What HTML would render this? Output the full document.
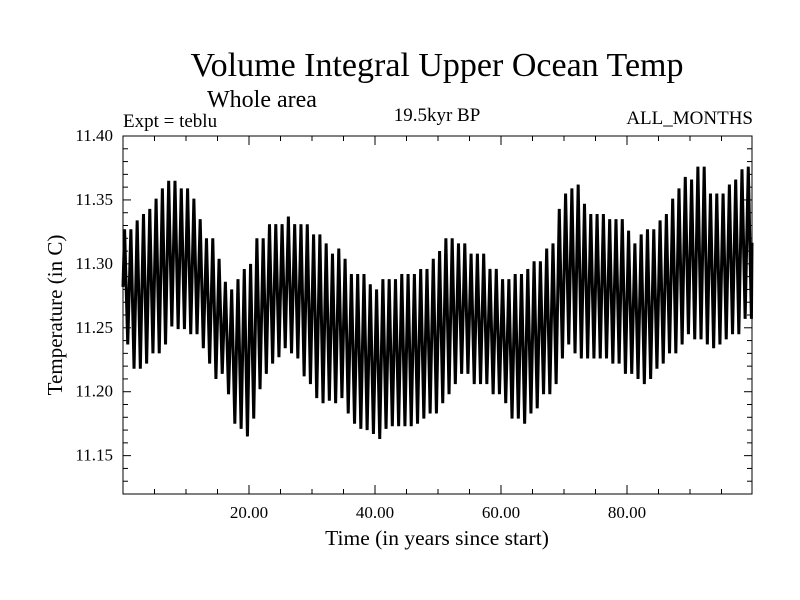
<!DOCTYPE html>
<html><head><meta charset="utf-8"><style>
html,body{margin:0;padding:0;background:#fff;}
svg{display:block;font-family:"Liberation Serif",serif;}
</style></head><body>
<svg id="chart" width="800" height="600" viewBox="0 0 800 600">
<text x="437" y="76" font-size="34" text-anchor="middle">Volume Integral Upper Ocean Temp</text>
<text x="207" y="107" font-size="24">Whole area</text>
<text x="123" y="127" font-size="19">Expt = teblu</text>
<text x="437" y="121" font-size="19" text-anchor="middle">19.5kyr BP</text>
<text x="753" y="124" font-size="19" text-anchor="end">ALL_MONTHS</text>
<text x="437" y="545" font-size="21.5" text-anchor="middle">Time (in years since start)</text>
<text transform="translate(62,315) rotate(-90)" font-size="21" text-anchor="middle">Temperature (in C)</text>
<g id="ticks"></g>
<path id="series" fill="none" stroke="#000" stroke-width="3" stroke-linejoin="miter"></path>
<rect x="123" y="136" width="629" height="358" fill="none" stroke="#000" stroke-width="1"></rect>
</svg>
<script>
const yearMax = [11.327,11.327,11.334,11.339,11.343,11.351,11.359,11.365,11.365,11.359,11.359,11.351,11.335,11.320,11.320,11.304,11.286,11.280,11.288,11.296,
11.300,11.320,11.320,11.331,11.331,11.331,11.337,11.331,11.331,11.331,11.323,11.323,11.316,11.308,11.312,11.304,11.292,11.292,11.292,11.284,
11.280,11.288,11.288,11.288,11.292,11.292,11.292,11.296,11.296,11.304,11.310,11.320,11.320,11.316,11.316,11.308,11.308,11.308,11.296,11.296,
11.288,11.288,11.292,11.292,11.296,11.302,11.302,11.312,11.316,11.343,11.355,11.359,11.362,11.347,11.339,11.339,11.339,11.335,11.335,11.335,
11.326,11.316,11.323,11.327,11.327,11.334,11.339,11.351,11.359,11.368,11.366,11.376,11.376,11.355,11.355,11.355,11.362,11.366,11.374,11.376];
const yearMin = [11.237,11.218,11.218,11.222,11.230,11.230,11.237,11.251,11.249,11.249,11.245,11.245,11.234,11.222,11.210,11.214,11.198,11.175,11.171,11.165,
11.179,11.202,11.214,11.222,11.227,11.234,11.230,11.226,11.212,11.206,11.195,11.191,11.193,11.191,11.195,11.183,11.175,11.171,11.170,11.167,
11.163,11.171,11.173,11.173,11.173,11.173,11.175,11.179,11.183,11.183,11.191,11.198,11.206,11.214,11.214,11.206,11.206,11.206,11.198,11.198,
11.191,11.179,11.179,11.175,11.183,11.187,11.198,11.198,11.206,11.226,11.237,11.230,11.226,11.226,11.226,11.226,11.226,11.222,11.222,11.214,
11.214,11.210,11.206,11.210,11.218,11.222,11.230,11.230,11.237,11.245,11.241,11.241,11.237,11.234,11.237,11.241,11.245,11.245,11.257,11.257];
const yTickValues = [11.15,11.20,11.25,11.30,11.35,11.40];
const yTickLabels = ["11.15","11.20","11.25","11.30","11.35","11.40"];
const xTickValues = [20,40,60,80];
const xTickLabels = ["20.00","40.00","60.00","80.00"];

const L=123,R=752,T=136,B=494;
const X0=0,X1=99.84,Y0=11.12,Y1=11.40;
function sx(v){return L+(v-X0)/(X1-X0)*(R-L);}
function sy(v){return B-(v-Y0)/(Y1-Y0)*(B-T);}
const NS="http://www.w3.org/2000/svg";
const g=document.getElementById('ticks');
function line(x1,y1,x2,y2,name){
  const l=document.createElementNS(NS,'line');
  l.setAttribute('x1',x1);l.setAttribute('y1',y1);l.setAttribute('x2',x2);l.setAttribute('y2',y2);
  l.setAttribute('stroke','#000');l.setAttribute('stroke-width','1');
  
  
  g.appendChild(l);
}
function text(x,y,s,anchor,name){
  const t=document.createElementNS(NS,'text');
  t.setAttribute('x',x);t.setAttribute('y',y);t.setAttribute('font-size','17');t.setAttribute('text-anchor',anchor);
  t.textContent=s;
  
  
  g.appendChild(t);
}
for(let k=0;k<=28;k++){
  const v=11.12+k*0.01; const y=sy(v);
  const r=Math.round(v*100)%5;
  const len=(r===0)?8:5;
  line(L,y,L+len,y,'y-tick');
  line(R,y,R-len,y,'y-tick-right');
}
yTickValues.forEach((v,i)=>text(113,sy(v)+5,yTickLabels[i],'end','y-tick-label'));
for(let yr=5;yr<100;yr+=5){
  const x=sx(yr); const len=(yr%20===0)?9:5;
  line(x,B,x,B-len,'x-tick');
  line(x,T,x,T+len,'x-tick-top');
}
xTickValues.forEach((v,i)=>text(sx(v),518,xTickLabels[i],'middle','x-tick-label'));
let d='';
for(let i=0;i<yearMax.length;i++){
  const xa=sx(i+0.25), xb=sx(i+0.75);
  d+=(i===0?'M'+sx(0)+','+sy((yearMax[0]+yearMin[0])/2)+' L':' L')+xa.toFixed(2)+','+sy(yearMax[i]).toFixed(2)+' L'+xb.toFixed(2)+','+sy(yearMin[i]).toFixed(2);
}
d+=' L'+sx(X1).toFixed(2)+','+sy((yearMax[99]+yearMin[99])/2).toFixed(2);
document.getElementById('series').setAttribute('d',d);
</script>
</body></html>
